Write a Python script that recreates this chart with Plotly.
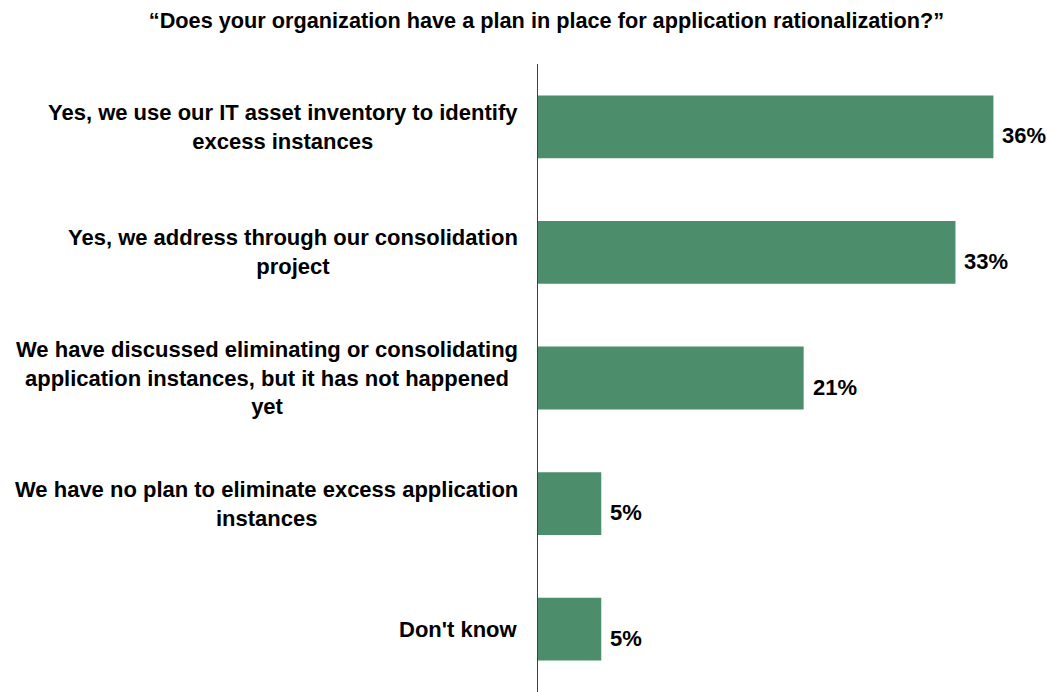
import plotly.graph_objects as go

# Survey responses, top to bottom
categories = [
    "Yes, we use our IT asset inventory to identify<br>excess instances",
    "Yes, we address through our consolidation<br>project",
    "We have discussed eliminating or consolidating<br>application instances, but it has not happened<br>yet",
    "We have no plan to eliminate excess application<br>instances",
    "Don't know",
]
shares = [36, 33, 21, 5, 5]
value_labels = [f"{v}%" for v in shares]

title_text = "\u201cDoes your organization have a plan in place for application rationalization?\u201d"

BAR_COLOR = "#4C8D6B"
FONT = "Liberation Sans, Arial, sans-serif"

positions = list(range(len(categories)))

fig = go.Figure(
    go.Bar(
        x=shares,
        y=positions,
        orientation="h",
        width=0.5,
        marker=dict(color=BAR_COLOR, line=dict(width=0)),
        hoverinfo="skip",
    )
)

annotations = []
# category labels, centered text block right-aligned to the axis
for pos, cat in zip(positions, categories):
    annotations.append(dict(
        x=0, y=pos, xref="x", yref="y",
        text=cat, showarrow=False,
        xanchor="right", yanchor="middle", align="center",
        xshift=-18,
        font=dict(family=FONT, size=22, color="#000000", weight="bold"),
    ))
# value labels beside each bar
for pos, val, lab in zip(positions, shares, value_labels):
    annotations.append(dict(
        x=val, y=pos, xref="x", yref="y",
        text=lab, showarrow=False,
        xanchor="left", yanchor="middle",
        xshift=7, yshift=-9,
        font=dict(family=FONT, size=22, color="#000000", weight="bold"),
    ))

fig.update_layout(
    width=1047, height=692,
    margin=dict(l=538, r=3, t=64, b=0),
    paper_bgcolor="white", plot_bgcolor="white",
    showlegend=False,
    title=dict(
        text=title_text,
        x=0.522, xref="container", xanchor="center",
        y=0.971, yref="container", yanchor="middle",
        font=dict(family=FONT, size=21.7, color="#000000", weight="bold"),
    ),
    xaxis=dict(range=[0, 40], showgrid=False, zeroline=False, showline=False,
               showticklabels=False, ticks=""),
    yaxis=dict(range=[4.5, -0.5], showgrid=False, zeroline=False,
               showline=True, linecolor="#404040", linewidth=1,
               showticklabels=False, ticks=""),
    annotations=annotations,
)

fig.write_html("out.html")
